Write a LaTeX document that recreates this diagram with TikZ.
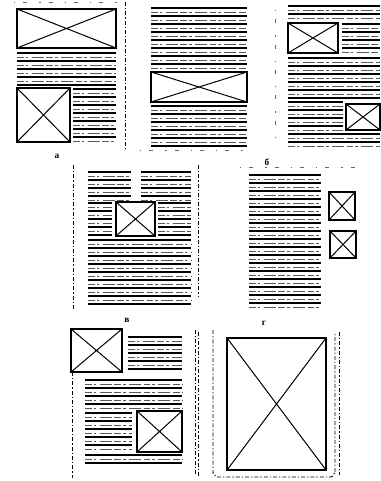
\documentclass[tikz,border=0pt]{standalone}
\usepackage{fontspec}
\setmainfont{Liberation Serif}
\usepackage{tikz}

\tikzset{
  txtline/.style={line width=1.05pt, black},
  txtfaint/.style={line width=0.45pt, black!65, dash pattern=on 5pt off 1.5pt on 2pt off 2.5pt on 9pt off 2pt},
  pic box/.style={line width=1.1pt, black},
  pic cross/.style={line width=0.75pt, black},
  fold/.style={line width=0.7pt, black, dash pattern=on 3pt off 1.5pt on 1pt off 1.5pt},
  dotrow/.style={line width=0.5pt, black!60, dash pattern=on 1pt off 6pt on 3pt off 9pt},
  letter/.style={font=\bfseries\scriptsize, inner sep=0.75pt}
}

% block of printed lines: x1, x2, y1, y2
\newcommand{\txtblock}[4]{%
  \pgfmathtruncatemacro\nlines{(#4-#3)/4}%
  \foreach \k in {0,...,\nlines}{%
    \pgfmathsetmacro\yy{#3+4*\k}%
    \ifodd\k
      \draw[txtfaint] (#1,\yy) -- (#2,\yy);
    \else
      \draw[txtline] (#1,\yy) -- (#2,\yy);
    \fi
  }%
}

% picture placeholder: box with diagonals
\newcommand{\picbox}[4]{%
  \draw[pic cross] (#1,#2) -- (#3,#4) (#1,#4) -- (#3,#2);
  \draw[pic box] (#1,#2) rectangle (#3,#4);
}

\begin{document}
\begin{tikzpicture}[x=0.75pt,y=0.75pt,yscale=-1,xscale=1]
        \useasboundingbox (0,0) rectangle (381,481);

        % ---- а : left page
        \draw[dotrow] (14,2) -- (120,2);
        \picbox{17}{9}{116}{48}
        \txtblock{17}{116}{53}{85}
        \picbox{17}{88}{70}{142}
        \txtblock{73}{116}{89}{142}
        % fold between the pages
        \draw[fold] (125,2) -- (125,150);

        % ---- а : right page
        \txtblock{151}{247}{8}{68}
        \picbox{151}{72}{247}{102}
        \txtblock{151}{247}{106}{147}
        \draw[dotrow] (140,150) -- (250,150);

        % ---- б
        \draw[dotrow] (275,10) -- (275,145);
        \txtblock{288}{380}{6}{18}
        \picbox{288}{23}{338}{53}
        \txtblock{342}{380}{24}{53}
        \txtblock{288}{380}{58}{98}
        \picbox{346}{104}{380}{130}
        \txtblock{288}{343}{102}{130}
        \txtblock{288}{380}{134}{146}

        % ---- в
        \draw[fold] (73,165) -- (73,310);
        \txtblock{88}{131}{172}{200}
        \txtblock{141}{191}{172}{200}
        \txtblock{88}{112}{203}{236}
        \txtblock{158}{191}{203}{236}
        \picbox{116}{202}{155}{236}
        \txtblock{88}{191}{240}{307}

        % ---- г
        \draw[dotrow] (240,167) -- (355,167);
        \draw[fold] (198,165) -- (198,297);
        \txtblock{249}{321}{175}{307}
        \picbox{329}{192}{355}{220}
        \picbox{330}{231}{356}{258}

        % ---- д
        \picbox{71}{329}{122}{372}
        \txtblock{128}{182}{337}{372}
        \txtblock{85}{182}{380}{410}
        \picbox{137}{411}{182}{452}
        \txtblock{85}{132}{413}{450}
        \txtblock{85}{182}{455}{465}
        \draw[fold] (72,372) -- (72,478);
        \draw[fold] (195,330) -- (195,475);

        % ---- full page picture
        \draw[fold] (198,332) -- (198,477);
        \draw[fold] (213,330) -- (213,473) to[out=-90,in=180] (217,477) -- (331,477) to[out=0,in=-90] (335,473) -- (335,332);
        \draw[fold] (339,332) -- (339,475);
        \picbox{227}{338}{326}{470}

        % Text Node
        \node[letter] (lblA) at (57,156) {а};
        % Text Node
        \node[letter] (lblB) at (267,162) {б};
        % Text Node
        \node[letter] (lblV) at (127,320) {в};
        % Text Node
        \node[letter] (lblG) at (264,323) {г};

    \end{tikzpicture}
\end{document}
